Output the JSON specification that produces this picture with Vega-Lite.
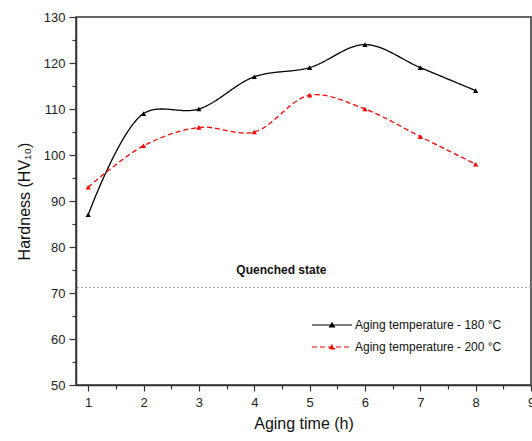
{
  "$schema": "https://vega.github.io/schema/vega-lite/v6.json",
  "width": 455,
  "height": 368,
  "autosize": {"type": "none"},
  "padding": {"left": 76, "top": 17, "right": 1, "bottom": 56},
  "background": "white",
  "config": {
    "view": {"stroke": "#333333", "strokeWidth": 1.5},
    "font": "Liberation Sans",
    "axis": {
      "domainColor": "#333333",
      "domainWidth": 1.5,
      "tickColor": "#333333",
      "tickWidth": 1.2,
      "labelFont": "Liberation Sans",
      "labelFontSize": 13,
      "labelColor": "#222222",
      "titleFont": "Liberation Sans",
      "titleFontSize": 16,
      "titleFontWeight": "normal",
      "titleColor": "#111111",
      "grid": false
    }
  },
  "datasets": {
    "hard": [
      {"time": 1, "hv": 87, "series": "Aging temperature - 180 °C"},
      {"time": 2, "hv": 109, "series": "Aging temperature - 180 °C"},
      {"time": 3, "hv": 110, "series": "Aging temperature - 180 °C"},
      {"time": 4, "hv": 117, "series": "Aging temperature - 180 °C"},
      {"time": 5, "hv": 119, "series": "Aging temperature - 180 °C"},
      {"time": 6, "hv": 124, "series": "Aging temperature - 180 °C"},
      {"time": 7, "hv": 119, "series": "Aging temperature - 180 °C"},
      {"time": 8, "hv": 114, "series": "Aging temperature - 180 °C"},
      {"time": 1, "hv": 93, "series": "Aging temperature - 200 °C"},
      {"time": 2, "hv": 102, "series": "Aging temperature - 200 °C"},
      {"time": 3, "hv": 106, "series": "Aging temperature - 200 °C"},
      {"time": 4, "hv": 105, "series": "Aging temperature - 200 °C"},
      {"time": 5, "hv": 113, "series": "Aging temperature - 200 °C"},
      {"time": 6, "hv": 110, "series": "Aging temperature - 200 °C"},
      {"time": 7, "hv": 104, "series": "Aging temperature - 200 °C"},
      {"time": 8, "hv": 98, "series": "Aging temperature - 200 °C"}
    ]
  },
  "encoding": {
    "x": {
      "field": "time",
      "type": "quantitative",
      "title": "Aging time (h)",
      "scale": {"domain": [0.78, 9.0], "nice": false, "zero": false},
      "axis": {
        "values": [1, 1.5, 2, 2.5, 3, 3.5, 4, 4.5, 5, 5.5, 6, 6.5, 7, 7.5, 8, 8.5, 9],
        "labelExpr": "datum.value % 1 === 0 ? format(datum.value, 'd') : ''",
        "tickSize": {"condition": {"test": "datum.value % 1 === 0", "value": 6}, "value": 4},
        "labelOverlap": false,
        "labelBound": false,
        "labelFlush": false,
        "labelPadding": 5,
        "titlePadding": 6
      }
    },
    "y": {
      "field": "hv",
      "type": "quantitative",
      "title": "Hardness (HV₁₀)",
      "scale": {"domain": [50, 130], "nice": false, "zero": false},
      "axis": {
        "values": [50, 55, 60, 65, 70, 75, 80, 85, 90, 95, 100, 105, 110, 115, 120, 125, 130],
        "labelExpr": "datum.value % 10 === 0 ? datum.label : ''",
        "tickSize": {"condition": {"test": "datum.value % 10 === 0", "value": 7}, "value": 4},
        "labelOverlap": false,
        "labelPadding": 4,
        "titlePadding": 11
      }
    }
  },
  "layer": [
    {
      "data": {"values": [{"hv": 71.2}]},
      "mark": {"type": "rule", "color": "#a0a0a0", "strokeDash": [2, 2], "strokeWidth": 1.2},
      "encoding": {"x": null}
    },
    {
      "data": {"values": [{"time": 4.49, "hv": 74.9, "label": "Quenched state"}]},
      "mark": {"type": "text", "fontWeight": "bold", "fontSize": 12, "font": "Liberation Sans", "color": "#111111"},
      "encoding": {"text": {"field": "label"}}
    },
    {
      "data": {"name": "hard"},
      "mark": {"type": "line", "interpolate": "catmull-rom", "strokeWidth": 1.3},
      "encoding": {
        "color": {
          "field": "series",
          "type": "nominal",
          "scale": {"domain": ["Aging temperature - 180 °C", "Aging temperature - 200 °C"], "range": ["#000000", "#ff0000"]},
          "legend": {
            "title": null,
            "orient": "none",
            "legendX": 245,
            "legendY": 297,
            "symbolType": "M-2,0H2M-0.24,0.2L0,-0.2L0.24,0.2Z",
            "symbolSize": 400,
            "symbolStrokeWidth": 1.2,
            "labelFontSize": 12,
            "labelFont": "Liberation Sans",
            "labelColor": "#111111",
            "rowPadding": 5,
            "labelOffset": 12,
            "padding": 0
          }
        },
        "strokeDash": {
          "field": "series",
          "type": "nominal",
          "scale": {"domain": ["Aging temperature - 180 °C", "Aging temperature - 200 °C"], "range": [[1, 0], [5, 3]]},
          "legend": null
        }
      }
    },
    {
      "data": {"name": "hard"},
      "mark": {"type": "point", "shape": "triangle-up", "filled": true, "size": 28, "opacity": 1},
      "encoding": {
        "color": {"field": "series", "type": "nominal", "legend": null}
      }
    }
  ]
}
